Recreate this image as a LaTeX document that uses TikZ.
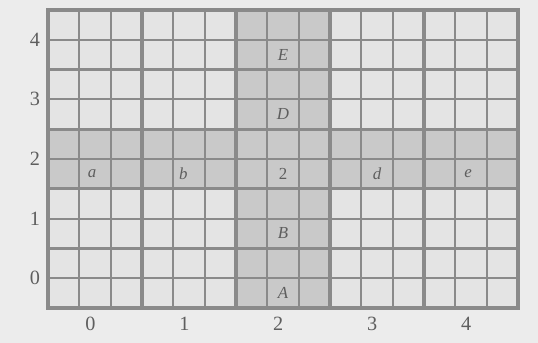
\documentclass[tikz,border=0pt]{standalone}
\usepackage{fontspec}
\setmainfont{Liberation Serif}
\usepackage{tikz}
\usetikzlibrary{positioning}
\definecolor{GPaper}{HTML}{ECECEC}
\definecolor{GCell}{HTML}{E4E4E4}
\definecolor{GBand}{HTML}{C9C9C9}
\definecolor{GLine}{HTML}{8A8A8A}
\definecolor{GText}{HTML}{5E5E5E}

\begin{document}
\begin{tikzpicture}[x=2.82cm,y=1.788cm, font=\LARGE]
\useasboundingbox (-0.511,-0.587) rectangle (5.213,5.168);
\fill[GPaper] (-0.511,-0.587) rectangle (5.213,5.168);
\fill[GCell] (0,0) rectangle (5,5);
% shaded cross: column 2 and row 2
\fill[GBand] (2,0) rectangle (3,5);
\fill[GBand] (0,2) rectangle (5,3);
% fine lines
\foreach \x in {0,1,...,4} {
  \draw[GLine, line width=1.6pt] (\x+1/3,0) -- (\x+1/3,5);
  \draw[GLine, line width=1.6pt] (\x+2/3,0) -- (\x+2/3,5);
}
\foreach \y in {0,1,...,4} {
  \draw[GLine, line width=1.6pt] (0,\y+0.5) -- (5,\y+0.5);
}
% thick lines
\foreach \k in {1,2,3,4} {
  \draw[GLine, line width=2.8pt] (\k,0) -- (\k,5);
  \draw[GLine, line width=2.8pt] (0,\k) -- (5,\k);
}
\draw[GLine, line width=3.2pt] (0,0) rectangle (5,5);
% axis numbers
\foreach \k in {0,...,4} {
  \node[GText] (xl\k) at (\k+0.45,-0.26) {\k};
  \node[GText] (yl\k) at (-0.14,\k+0.5) {\k};
}
% cell letters
\node[GText, font=\Large\itshape] (A) at (2.5,0.25) {A};
\node[GText, font=\Large\itshape] (B) at (2.5,1.25) {B};
\node[GText, font=\Large] (c) at (2.5,2.25) {2};
\node[GText, font=\Large\itshape] (D) at (2.5,3.25) {D};
\node[GText, font=\Large\itshape] (E) at (2.5,4.25) {E};
\node[GText, font=\Large\itshape] (a) at (0.47,2.25) {a};
\node[GText, font=\Large\itshape] (b) at (1.44,2.25) {b};
\node[GText, font=\Large\itshape] (d) at (3.5,2.25) {d};
\node[GText, font=\Large\itshape] (e) at (4.47,2.25) {e};
\end{tikzpicture}
\end{document}
